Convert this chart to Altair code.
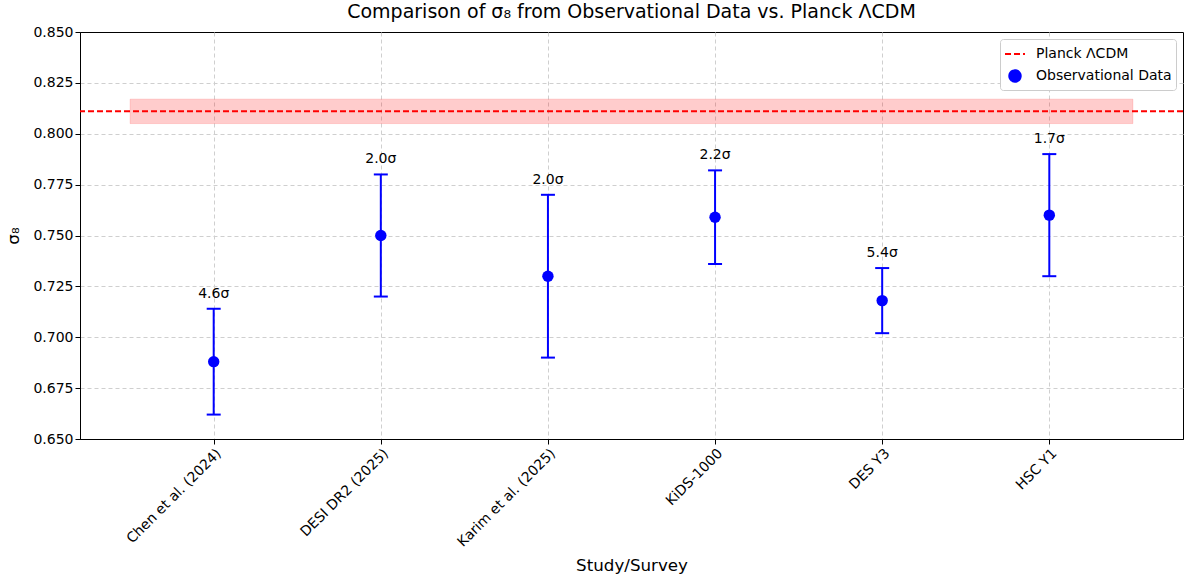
import altair as alt
import pandas as pd

studies = ["Chen et al. (2024)", "DESI DR2 (2025)", "Karim et al. (2025)", "KiDS-1000", "DES Y3", "HSC Y1"]
sigma8 = [0.688, 0.750, 0.730, 0.759, 0.718, 0.760]
sigma8_err = [0.026, 0.030, 0.040, 0.023, 0.016, 0.030]
tension = ["4.6σ", "2.0σ", "2.0σ", "2.2σ", "5.4σ", "1.7σ"]
planck_value = 0.811
planck_err = 0.006
y_ticks = [0.650, 0.675, 0.700, 0.725, 0.750, 0.775, 0.800, 0.825, 0.850]

FONT = "DejaVu Sans"
series_domain = ["Planck ΛCDM", "Observational Data"]

obs = pd.DataFrame({
    "idx": list(range(len(studies))),
    "study": studies,
    "s8": sigma8,
    "err": sigma8_err,
    "tension": tension,
})
obs["lo"] = obs["s8"] - obs["err"]
obs["hi"] = obs["s8"] + obs["err"]
obs["series"] = "Observational Data"

planck = pd.DataFrame({
    "val": [planck_value],
    "lo": [planck_value - planck_err],
    "hi": [planck_value + planck_err],
    "x0": [-0.5],
    "x1": [len(studies) - 0.5],
    "series": ["Planck ΛCDM"],
})

label_expr = "[" + ",".join("'" + s + "'" for s in studies) + "][datum.value]"

x_scale = alt.Scale(domain=[-0.8, len(studies) - 0.2], nice=False, zero=False)
y_scale = alt.Scale(domain=[0.65, 0.85], nice=False, zero=False)

x_axis = alt.Axis(values=list(range(len(studies))), labelExpr=label_expr, labelAngle=-45,
                  labelAlign="right", labelBaseline="top", title="Study/Survey",
                  grid=True, labelPadding=2)
y_axis = alt.Axis(values=y_ticks, format=".3f", title="σ₈", grid=True,
                  gridColor={"condition": {"test": "datum.value >= 0.849 || datum.value <= 0.651",
                                           "value": "transparent"}, "value": "#cfcfcf"})

color_scale = alt.Scale(domain=series_domain, range=["#ff0000", "#0000ff"])
shape_scale = alt.Scale(domain=series_domain, range=["stroke", "circle"])
dash_scale = alt.Scale(domain=series_domain, range=[[6, 3], [1, 0]])
size_scale = alt.Scale(domain=series_domain, range=[400, 130])
legend = alt.Legend(title=None, orient="top-right")

band = alt.Chart(planck).mark_rect(fill="#ff0000", fillOpacity=0.2, stroke="#ff0000", strokeOpacity=0.15).encode(
    x=alt.X("x0:Q", scale=x_scale, axis=x_axis),
    x2="x1:Q",
    y=alt.Y("lo:Q", scale=y_scale, axis=y_axis),
    y2="hi:Q",
)

line = alt.Chart(planck).mark_rule(strokeWidth=2).encode(
    y=alt.Y("val:Q", scale=y_scale),
    color=alt.Color("series:N", scale=color_scale, legend=legend),
    strokeDash=alt.StrokeDash("series:N", scale=dash_scale, legend=legend),
)

bars = alt.Chart(obs).mark_rule(color="#0000ff", strokeWidth=2).encode(
    x=alt.X("idx:Q", scale=x_scale),
    y=alt.Y("lo:Q", scale=y_scale),
    y2="hi:Q",
)

cap_lo = alt.Chart(obs).mark_point(shape="stroke", size=196, color="#0000ff", strokeWidth=2, filled=False, opacity=1).encode(
    x=alt.X("idx:Q", scale=x_scale),
    y=alt.Y("lo:Q", scale=y_scale),
)
cap_hi = alt.Chart(obs).mark_point(shape="stroke", size=196, color="#0000ff", strokeWidth=2, filled=False, opacity=1).encode(
    x=alt.X("idx:Q", scale=x_scale),
    y=alt.Y("hi:Q", scale=y_scale),
)

points = alt.Chart(obs).mark_point(filled=True, opacity=1).encode(
    x=alt.X("idx:Q", scale=x_scale),
    y=alt.Y("s8:Q", scale=y_scale),
    color=alt.Color("series:N", scale=color_scale, legend=legend),
    shape=alt.Shape("series:N", scale=shape_scale, legend=legend),
    size=alt.Size("series:N", scale=size_scale, legend=legend),
)

labels = alt.Chart(obs).mark_text(font=FONT, fontSize=14, color="black", baseline="bottom", dy=-8).encode(
    x=alt.X("idx:Q", scale=x_scale),
    y=alt.Y("hi:Q", scale=y_scale),
    text="tension:N",
)

chart = alt.layer(band, line, bars, cap_lo, cap_hi, points, labels).properties(
    width=1103,
    height=407,
    title=alt.TitleParams("Comparison of σ₈ from Observational Data vs. Planck ΛCDM",
                          font=FONT, fontSize=19, fontWeight="normal", color="black", offset=3),
    autosize=alt.AutoSizeParams(type="none"),
    padding={"left": 80, "top": 32, "right": 3, "bottom": 142},
).configure(
    font=FONT,
).configure_view(
    stroke="black", strokeWidth=1,
).configure_axis(
    labelFont=FONT, titleFont=FONT, labelFontSize=14, titleFontSize=16.7,
    labelColor="black", titleColor="black", titleFontWeight="normal",
    domainColor="black", tickColor="black", tickSize=5,
    gridColor="#cfcfcf", gridDash=[4, 3], gridWidth=1,
).configure_axisY(
    titlePadding=10,
).configure_axisX(
    titlePadding=8,
).configure_legend(
    labelFont=FONT, labelFontSize=14, labelColor="black",
    strokeColor="#cccccc", fillColor="white", cornerRadius=3, padding=4,
    offset=7, symbolStrokeWidth=2, rowPadding=5, labelOffset=10,
)

chart.save("out.html", embed_options={"renderer": "svg", "actions": False})
